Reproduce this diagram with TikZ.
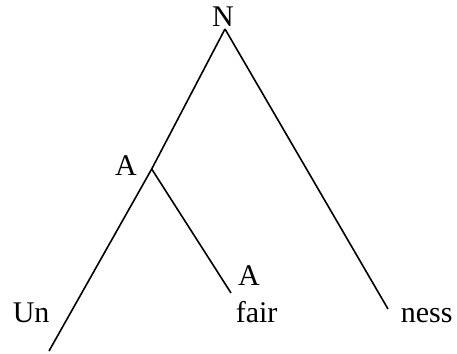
\documentclass[tikz,border=0pt]{standalone}
\usepackage{fontspec}
\setmainfont{Liberation Serif}

\begin{document}
\begin{tikzpicture}[x=1pt,y=-1pt,line width=1.6pt,
    lbl/.style={inner sep=0pt,font=\fontsize{30}{36}\selectfont}]
  \useasboundingbox (0,0) rectangle (457,353);
  % ramas del arbol
  \coordinate (top) at (225,29);
  \coordinate (amid) at (151.7,169);
  \coordinate (unend) at (49,351);
  \coordinate (fairend) at (231,293);
  \coordinate (nessend) at (388,309);
  \draw (top) -- (amid) -- (unend);
  \draw (amid) -- (fairend);
  \draw (top) -- (nessend);
  % etiquetas
  \node[lbl,anchor=base] (n) at (223,27) {N};
  \node[lbl,anchor=base] (a) at (126,175) {A};
  \node[lbl,anchor=base] (a2) at (249,285) {A};
  \node[lbl,anchor=base west] (un) at (12,322) {Un};
  \node[lbl,anchor=base west] (fair) at (235,322) {fair};
  \node[lbl,anchor=base west] (ness) at (400,322) {ness};
\end{tikzpicture}
\end{document}
